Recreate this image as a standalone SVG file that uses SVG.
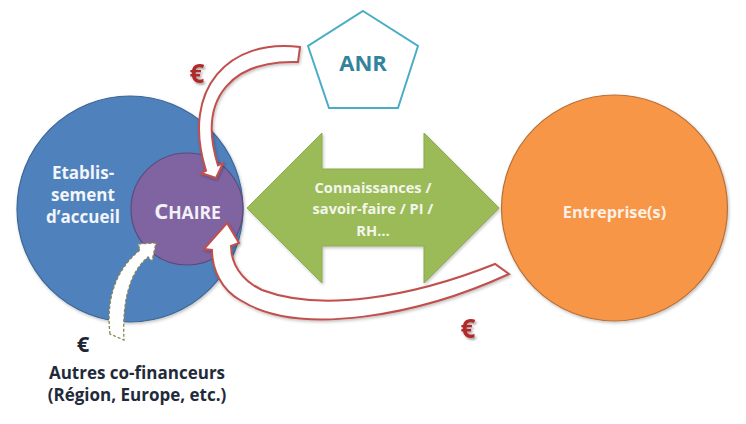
<svg xmlns="http://www.w3.org/2000/svg" width="746" height="424" viewBox="0 0 746 424">
<defs>
<filter id="sh" x="-20%" y="-20%" width="140%" height="140%"><feDropShadow dx="1.5" dy="2" stdDeviation="1.2" flood-color="#000" flood-opacity="0.35"/></filter>
<filter id="shs" x="-10%" y="-10%" width="120%" height="120%"><feDropShadow dx="1" dy="1.5" stdDeviation="1.5" flood-color="#000" flood-opacity="0.25"/></filter>
</defs>
<style>
text{font-family:"Open Sans","Liberation Sans",sans-serif;font-weight:bold;text-anchor:middle}
.lbl{fill:#f2f5fa;font-size:17px}
.red{fill:#fff;stroke:#c0504d;stroke-width:2;stroke-linejoin:miter}
.eur{fill:#b02a2a;font-size:26px}
</style>
<rect width="746" height="424" fill="#fff"/>
<g id="etablissement">
<circle cx="130" cy="209" r="113" fill="#4f81bd" stroke="#3d6796" stroke-width="1.2" filter="url(#shs)"/>
<text class="lbl" x="83" y="179">Etablis-</text>
<text class="lbl" x="83" y="201">sement</text>
<text class="lbl" x="83" y="223">d’accueil</text>
</g>
<g id="chaire">
<circle cx="187" cy="209" r="56" fill="#8064a2" stroke="#5e4a7a" stroke-width="1.2"/>
<text x="187.5" y="219" fill="#f4f0f8"><tspan font-size="22">C</tspan><tspan font-size="17.5">HAIRE</tspan></text>
</g>
<g id="anr">
<polygon points="363,11 418,46 398,108 329,108 308,46" fill="#fff" stroke="#4bacc6" stroke-width="2"/>
<text x="363" y="71" fill="#31849b" font-size="22">ANR</text>
</g>
<g id="connaissances">
<polygon points="247,208 322,133 322,169 424,169 424,133 499,208 424,283 424,246 322,246 322,283" fill="#9bbb59" stroke="#8cab4e" stroke-width="1" filter="url(#shs)"/>
<text x="373" y="193" fill="#f3f6ec" font-size="14.6">Connaissances /</text>
<text x="373" y="214" fill="#f3f6ec" font-size="14.6">savoir-faire / PI /</text>
<text x="373" y="236" fill="#f3f6ec" font-size="14.6">RH…</text>
</g>
<g id="entreprise">
<circle cx="614.5" cy="208" r="113" fill="#f79646" stroke="#b8713a" stroke-width="1.2" filter="url(#shs)"/>
<text x="614.5" y="218" font-size="16.3" fill="#fdf0e6">Entreprise(s)</text>
</g>
<g id="connectors">
<path class="red" filter="url(#shs)" d="M300,47 C230,38 180,88 206,170.6 L201,173 L216,178 L223,163 L218,165.4 C196,95 235,60 298,62 Z"/>
<path class="red" filter="url(#shs)" d="M509,274 C420,315 300,338 240,300 C222,290 212,270 212,250 L204,249 L227,223 L239,243 L231,246 C231,262 240,280 262,290 C320,312 410,298 495,264 Z"/>
<path d="M110,334 C106,300 115,270 140,250 L138,244 L156,243 L152,261 L148,257 C130,272 122,300 124,340 Z" fill="#fff" stroke="#8a8450" stroke-width="1.3" stroke-dasharray="3 2"/>
</g>
<g id="euros">
<text class="eur" x="197" y="83" filter="url(#sh)">€</text>
<text class="eur" x="468" y="338" filter="url(#sh)">€</text>
<text x="83" y="352" fill="#1b2430" font-size="22">€</text>
</g>
<g id="cofinanceurs">
<text x="137" y="379" fill="#1f2b3a" font-size="17">Autres co-financeurs</text>
<text x="137" y="401" fill="#1f2b3a" font-size="17">(Région, Europe, etc.)</text>
</g>
</svg>
